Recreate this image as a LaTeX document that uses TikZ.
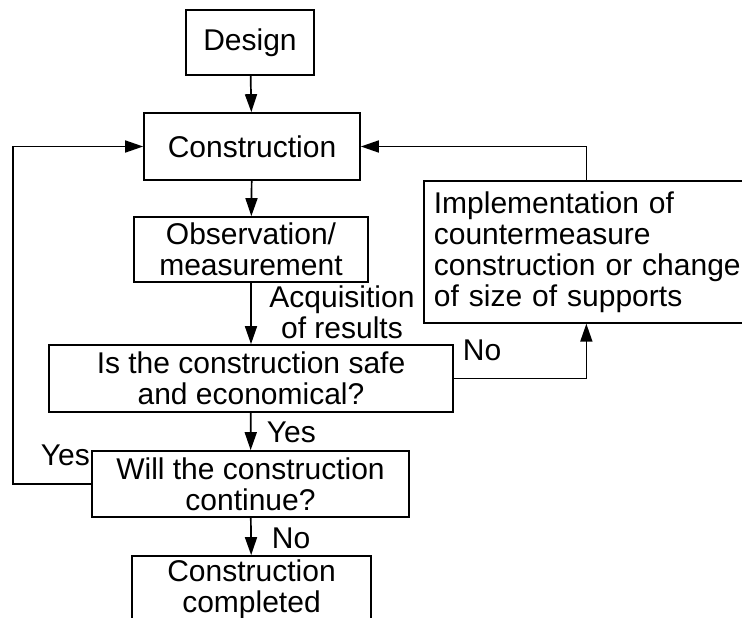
\documentclass[tikz,border=0pt]{standalone}
\usepackage{fontspec}
\setmainfont{Liberation Sans}
\usetikzlibrary{arrows.meta}
\begin{document}
\begin{tikzpicture}[x=1pt,y=-1pt,line width=1.7pt,
  font=\fontsize{30}{31}\selectfont,
  box/.style={draw,rectangle,align=center,inner sep=0pt},
  arr/.style={-{Triangle[length=18pt,width=12pt]}},
  lbl/.style={inner sep=0pt}]
\clip (0,0) rectangle (742,618);
\fill[white] (0,0) rectangle (742,618);

\node[box,minimum width=128,minimum height=65] (design) at (250,42.5) {Design};
\node[box,minimum width=216,minimum height=67] (cons) at (252,146.5) {Construction};
\node[box,minimum width=234,minimum height=65] (obs) at (251,249.5) {Observation/\\measurement};
\node[box,minimum width=404,minimum height=67] (safe) at (251,378.5) {Is the construction safe\\and economical?};
\node[box,minimum width=317,minimum height=66] (will) at (250.5,484) {Will the construction\\continue?};
\node[box,minimum width=239,minimum height=66] (done) at (251.5,589) {Construction\\completed};
\node[draw,rectangle,anchor=north west,align=left,text width=317,
  inner xsep=10pt,inner ysep=0pt,minimum height=142] (impl) at (423,180)
  {Implementation of\\countermeasure\\construction or change\\of size of supports};

\draw[arr] (design) -- (cons);
\draw[arr] (cons) -- (obs);
\draw[arr] (obs) -- (safe);
\draw[arr] (safe) -- (will);
\draw[arr] (will) -- (done);
\draw[arr] (will.west) -- ++(-78,0) |- (cons.west);
\draw[arr] (safe.east) -| ([xshift=-6pt]impl.south);
\draw[arr] ([xshift=-6pt]impl.north) |- (cons.east);

\node[lbl,align=center] (acq) at (342,312) {Acquisition\\of results};
\node[lbl,anchor=west] (yes1) at (266,432) {Yes};
\node[lbl,anchor=west] (yes2) at (40,455) {Yes};
\node[lbl,anchor=west] (no1) at (271,538) {No};
\node[lbl,anchor=west] (no2) at (462,350) {No};
\end{tikzpicture}
\end{document}
